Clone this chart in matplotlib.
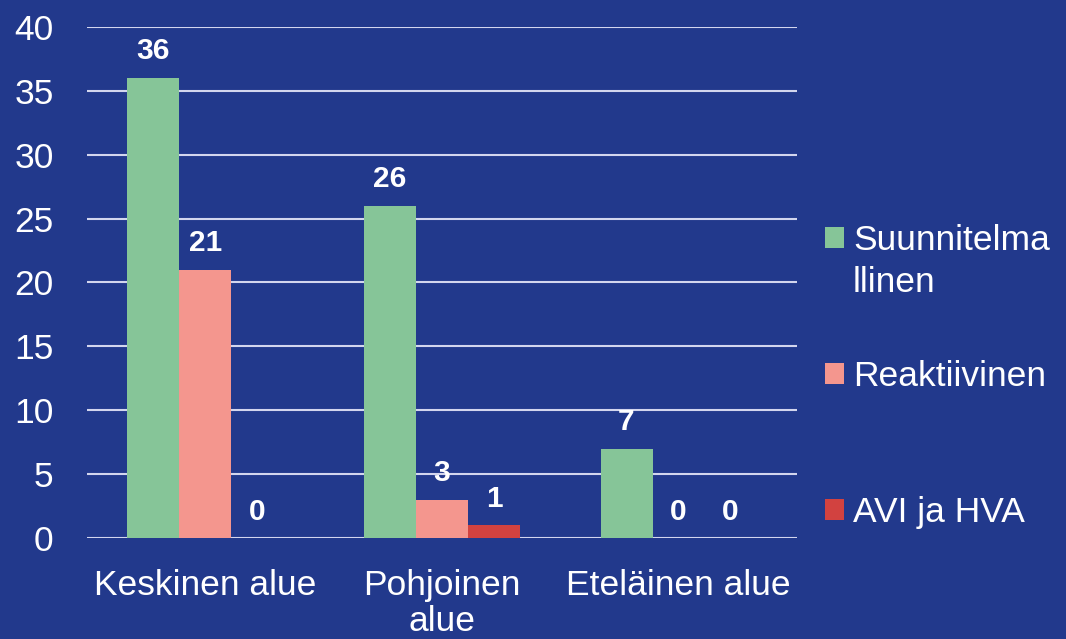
"""Grouped bar chart of case counts by area and type."""

import numpy as np
from matplotlib import pyplot as plt

categories = ["Keskinen alue", "Pohjoinen\nalue", "Eteläinen alue"]
series_names = ["Suunnitelmallinen", "Reaktiivinen", "AVI ja HVA"]
suunnitelmallinen = [36, 26, 7]
reaktiivinen = [21, 3, 0]
avi_hva = [0, 1, 0]

BG = "#22398C"
GRID = "#D3D6EE"
COLORS = ["#86C598", "#F4968E", "#D24240"]
FS = 25.5

plt.rcParams["font.family"] = ["Liberation Sans", "DejaVu Sans"]

fig = plt.figure(figsize=(10.66, 6.39), dpi=100, facecolor=BG)
ax = fig.add_axes([0.0816, 0.158, 0.666, 0.80])
ax.set_facecolor(BG)

x = np.arange(len(categories))
width = 0.22
bars = []
for i, (vals, name, col) in enumerate(
    zip([suunnitelmallinen, reaktiivinen, avi_hva], series_names, COLORS)
):
    b = ax.bar(x + (i - 1) * width, vals, width, color=col, label=name, zorder=3)
    bars.append(b)
    for rect, v in zip(b, vals):
        ax.annotate(
            f"{v}",
            (rect.get_x() + rect.get_width() / 2, v),
            xytext=(0, 9),
            textcoords="offset points",
            ha="center",
            va="bottom",
            color="white",
            fontsize=21.5,
            fontweight="bold",
            zorder=4,
        )

ax.set_xlim(-0.5, 2.5)
ax.set_ylim(0, 40)
ax.set_yticks(range(0, 41, 5))
ax.set_xticks(x)
ax.set_xticklabels(categories, linespacing=1.13)
ax.tick_params(axis="both", length=0, colors="white", labelsize=FS)
ax.tick_params(axis="y", pad=24)
ax.tick_params(axis="x", pad=22)
ax.grid(True, axis="y", color=GRID, linewidth=1.5, zorder=0)
for s in ax.spines.values():
    s.set_visible(False)

# the first legend label wraps in the original; the legend shows the first
# part and the remainder is hung under it so the spacing stays even
first_part = series_names[0][:11]
rest_part = series_names[0][11:]
leg = fig.legend(
    handles=[b[0] for b in bars],
    labels=[first_part] + series_names[1:],
    loc="upper left",
    bbox_to_anchor=(0.744, 0.699),
    frameon=False,
    fontsize=FS,
    labelcolor="white",
    handlelength=0.54,
    handleheight=0.54,
    handletextpad=0.25,
    labelspacing=2.9,
)
fig.canvas.draw()
ax.annotate(
    rest_part,
    xy=(0, 0),
    xycoords=leg.get_texts()[0],
    xytext=(0, -30),
    textcoords="offset points",
    ha="left",
    va="bottom",
    color="white",
    fontsize=FS,
    annotation_clip=False,
)

fig.savefig("out.png", dpi=100, facecolor=BG)
